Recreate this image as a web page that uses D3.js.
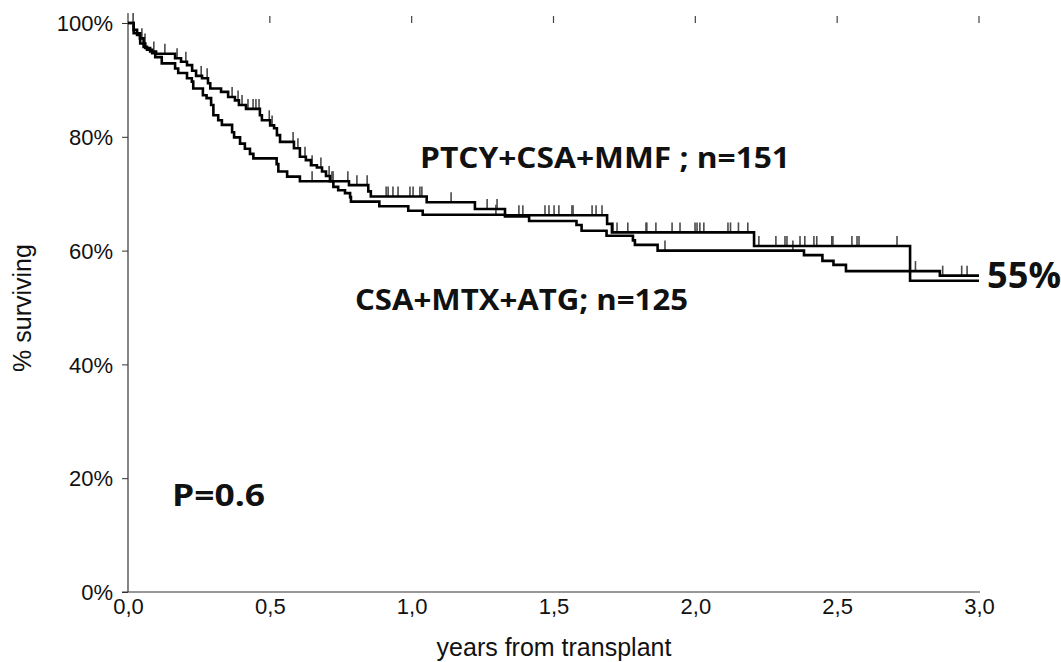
<!DOCTYPE html>
<html>
<head>
<meta charset="utf-8">
<script src="https://cdn.jsdelivr.net/npm/d3@7"></script>
<style>
  html, body { margin: 0; padding: 0; background: #fff; }
  svg { display: block; }
</style>
</head>
<body>
<svg id="chart" width="1061" height="662"></svg>
<script>
// ---- Data ----
const xTicks = [0, 0.5, 1.0, 1.5, 2.0, 2.5, 3.0];
const xTickLabels = ["0,0", "0,5", "1,0", "1,5", "2,0", "2,5", "3,0"];
const yTicks = [0, 20, 40, 60, 80, 100];
const yTickLabels = ["0%", "20%", "40%", "60%", "80%", "100%"];

// CSA+MTX+ATG (n=125): step times (years) and survival (%) after each step
const atgTimes = [0, 0.020, 0.032, 0.042, 0.055, 0.061, 0.078, 0.099, 0.166, 0.187, 0.208, 0.226, 0.240, 0.261, 0.282, 0.290, 0.328, 0.353, 0.377, 0.391, 0.416, 0.465, 0.472, 0.501, 0.515, 0.525, 0.536, 0.585, 0.606, 0.627, 0.645, 0.666, 0.684, 0.698, 0.712, 0.724, 0.741, 0.765, 0.783, 0.786, 0.886, 0.988, 1.039, 1.329, 1.414, 1.581, 1.599, 1.687, 1.780, 1.787, 1.867, 2.383, 2.448, 2.487, 2.531, 2.862];
const atgSurv  = [100, 98.8, 97.9, 97.3, 96.4, 95.6, 95.0, 94.6, 93.8, 93.2, 92.6, 91.6, 90.7, 90.3, 89.4, 88.5, 87.9, 87.0, 86.4, 85.6, 84.9, 83.8, 82.9, 82.0, 81.5, 80.3, 79.1, 78.0, 76.5, 75.9, 75.0, 74.6, 73.9, 73.1, 72.2, 71.2, 70.6, 70.1, 69.4, 68.6, 67.8, 67.0, 66.3, 66.0, 65.2, 64.5, 63.5, 62.6, 61.8, 61.0, 60.0, 59.2, 58.2, 57.5, 56.4, 55.6];
const atgCensored = [0.018, 0.049, 0.060, 0.091, 0.130, 0.173, 0.204, 0.258, 0.279, 0.367, 0.388, 0.402, 0.423, 0.441, 0.451, 0.462, 0.498, 0.508, 0.582, 0.599, 0.624, 0.649, 0.680, 0.709, 0.719, 1.297, 1.893, 2.344, 2.776, 2.872, 2.939, 2.958];

// PTCY+CSA+MMF (n=151)
const ptcyTimes = [0, 0.020, 0.043, 0.055, 0.067, 0.085, 0.096, 0.119, 0.166, 0.177, 0.208, 0.225, 0.230, 0.264, 0.277, 0.293, 0.301, 0.318, 0.331, 0.367, 0.374, 0.395, 0.412, 0.430, 0.442, 0.524, 0.530, 0.561, 0.606, 0.779, 0.847, 0.856, 1.053, 1.223, 1.329, 1.689, 1.706, 2.207, 2.757];
const ptcySurv  = [100, 98.2, 96.4, 95.8, 95.3, 94.7, 94.0, 92.9, 92.0, 91.2, 90.3, 89.7, 88.5, 87.3, 86.8, 85.6, 83.8, 82.9, 82.1, 80.8, 79.9, 78.8, 77.9, 77.0, 76.2, 75.2, 73.9, 73.0, 72.2, 71.5, 70.4, 69.5, 68.5, 67.3, 66.2, 64.7, 63.2, 60.8, 54.7];
const ptcyCensored = [0.649, 0.723, 0.775, 0.807, 0.843, 0.910, 0.917, 0.934, 0.952, 0.994, 1.005, 1.029, 1.036, 1.139, 1.266, 1.301, 1.378, 1.392, 1.470, 1.484, 1.502, 1.519, 1.565, 1.569, 1.636, 1.650, 1.671, 1.710, 1.724, 1.762, 1.826, 1.829, 1.861, 1.918, 1.946, 1.999, 2.006, 2.016, 2.030, 2.115, 2.124, 2.152, 2.185, 2.224, 2.284, 2.316, 2.323, 2.369, 2.386, 2.418, 2.428, 2.481, 2.485, 2.552, 2.570, 2.577, 2.711];

const endTime = 3.0;

// ---- Drawing ----
const svg = d3.select("#chart");
const x = d3.scaleLinear().domain([0, 3]).range([128, 979]);
const y = d3.scaleLinear().domain([0, 100]).range([592, 23]);

const axisFont = "'Liberation Sans', Arial, sans-serif";
const boldFont = "'Open Sans', 'DejaVu Sans', sans-serif";

// y axis
const yAxis = d3.axisLeft(y).tickValues(yTicks).tickSize(6).tickFormat((d, i) => yTickLabels[i]);
const gy = svg.append("g").attr("transform", "translate(128,0)").call(yAxis);
gy.select(".domain").remove();
gy.selectAll(".tick line").attr("stroke", "#333");
gy.selectAll(".tick text").attr("font-family", axisFont).attr("font-size", 22).attr("fill", "#111").attr("x", -15).attr("dy", "0.35em");
svg.append("line").attr("x1", 128).attr("x2", 128).attr("y1", 13).attr("y2", 592).attr("stroke", "#333").attr("stroke-width", 1.2);

// x axis (bottom line + labels, no tick marks)
const xAxis = d3.axisBottom(x).tickValues(xTicks).tickSize(0).tickFormat((d, i) => xTickLabels[i]);
const gx = svg.append("g").attr("transform", "translate(0,592)").call(xAxis);
gx.select(".domain").remove();
gx.selectAll(".tick text").attr("font-family", axisFont).attr("font-size", 22).attr("fill", "#111").attr("y", 6);
svg.append("line").attr("x1", 122).attr("x2", 980).attr("y1", 592).attr("y2", 592).attr("stroke", "#333").attr("stroke-width", 1.2);

// small tick marks at the top
svg.append("g").selectAll("line").data(xTicks.slice(1)).join("line")
  .attr("x1", d => x(d)).attr("x2", d => x(d))
  .attr("y1", 16).attr("y2", 23)
  .attr("stroke", "#444").attr("stroke-width", 1.2);

// axis titles
svg.append("text").attr("x", 554).attr("y", 656).attr("text-anchor", "middle")
  .attr("font-family", axisFont).attr("font-size", 25).attr("fill", "#111").text("years from transplant");
svg.append("text").attr("transform", "translate(31,308) rotate(-90)").attr("text-anchor", "middle")
  .attr("font-family", axisFont).attr("font-size", 25).attr("fill", "#111").text("% surviving");

// step curves
function stepValue(times, surv, t) {
  let v = surv[0];
  for (let i = 0; i < times.length; i++) { if (times[i] <= t) v = surv[i]; else break; }
  return v;
}
const line = d3.line().x(d => x(d[0])).y(d => y(d[1])).curve(d3.curveStepAfter);

const series = [
  { times: atgTimes, surv: atgSurv, cens: atgCensored },
  { times: ptcyTimes, surv: ptcySurv, cens: ptcyCensored }
];

series.forEach(s => {
  // censor ticks
  svg.append("g").selectAll("line").data(s.cens).join("line")
    .attr("x1", d => x(d)).attr("x2", d => x(d))
    .attr("y1", d => y(stepValue(s.times, s.surv, d)) - 10)
    .attr("y2", d => y(stepValue(s.times, s.surv, d)))
    .attr("stroke", "#4a4a4a").attr("stroke-width", 1.6);
});
series.forEach(s => {
  const pts = s.times.map((t, i) => [t, s.surv[i]]);
  pts.push([endTime, s.surv[s.surv.length - 1]]);
  svg.append("path").datum(pts).attr("d", line)
    .attr("fill", "none").attr("stroke", "#000").attr("stroke-width", 2.6);
});

// annotations
function boldText(txt, xPos, yPos, size, len) {
  svg.append("text").attr("x", xPos).attr("y", yPos)
    .attr("font-family", boldFont).attr("font-weight", "bold").attr("font-size", size)
    .attr("fill", "#111").attr("textLength", len).attr("lengthAdjust", "spacingAndGlyphs").text(txt);
}
boldText("PTCY+CSA+MMF ; n=151", 420, 168, 29, 370);
boldText("CSA+MTX+ATG; n=125", 355, 310, 29, 333);
boldText("P=0.6", 172, 506, 30, 93);
boldText("55%", 987, 288, 36, 74);
</script>
</body>
</html>
